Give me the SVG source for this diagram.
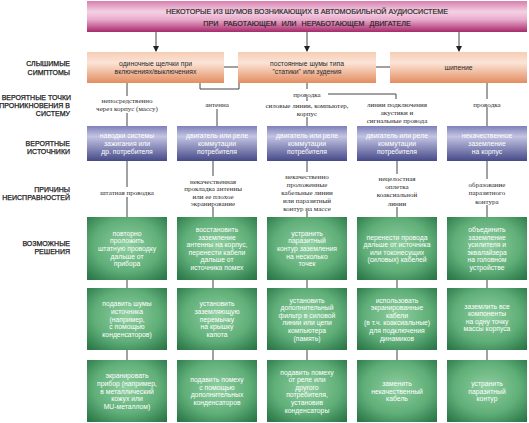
<svg xmlns="http://www.w3.org/2000/svg" width="529" height="423" viewBox="0 0 529 423">
<defs>
<linearGradient id="gTitle" x1="0" y1="0" x2="0" y2="1">
<stop offset="0" stop-color="#d77fae"/><stop offset="0.35" stop-color="#f4d2e4"/><stop offset="0.6" stop-color="#e9abcc"/><stop offset="1" stop-color="#a62a6a"/>
</linearGradient>
<linearGradient id="gSym" x1="0" y1="0" x2="0" y2="1">
<stop offset="0" stop-color="#f6cdb6"/><stop offset="0.35" stop-color="#fbe4d6"/><stop offset="1" stop-color="#e38d60"/>
</linearGradient>
<linearGradient id="gSrc" x1="0" y1="0" x2="0" y2="1">
<stop offset="0" stop-color="#7d80b8"/><stop offset="0.3" stop-color="#c3c4e3"/><stop offset="1" stop-color="#464a88"/>
</linearGradient>
<radialGradient id="gSol" cx="0.5" cy="0.45" r="0.7">
<stop offset="0" stop-color="#8fcf9f"/><stop offset="0.6" stop-color="#5fae78"/><stop offset="1" stop-color="#2c7849"/>
</radialGradient>
<marker id="arr" markerWidth="6" markerHeight="6" refX="5" refY="3" orient="auto" markerUnits="userSpaceOnUse">
<path d="M0,0 L6,3 L0,6 Z" fill="#222"/>
</marker>
<style>
.title{font-family:"Liberation Sans",Arial,sans-serif;font-size:7.2px;fill:#222;text-anchor:middle;stroke:#222;stroke-width:0.15}
.lbl{font-family:"Liberation Sans",Arial,sans-serif;font-size:7px;fill:#1a1a1a;text-anchor:end;stroke:#1a1a1a;stroke-width:0.25}
.bt{font-family:"Liberation Sans",Arial,sans-serif;font-size:6.8px;text-anchor:middle}
.dark{fill:#2a2a2a}
.wt{fill:#ffffff}
.sf{font-family:"Liberation Serif","Times New Roman",serif;font-size:7px;fill:#2a2a2a;text-anchor:middle}
.ln{stroke:#444;stroke-width:1;fill:none}
.sym{fill:url(#gSym)}
.src{fill:url(#gSrc)}
.sol{fill:url(#gSol)}
</style>
</defs>

<g id="row-labels">
<text class="lbl" x="70" y="65.5">СЛЫШИМЫЕ</text>
<text class="lbl" x="70" y="74.5">СИМПТОМЫ</text>
<text class="lbl" x="71" y="99.5">ВЕРОЯТНЫЕ ТОЧКИ</text>
<text class="lbl" x="70" y="107.5">ПРОНИКНОВЕНИЯ В</text>
<text class="lbl" x="70" y="115.5">СИСТЕМУ</text>
<text class="lbl" x="70" y="145.5">ВЕРОЯТНЫЕ</text>
<text class="lbl" x="70" y="153.5">ИСТОЧНИКИ</text>
<text class="lbl" x="70" y="191.5">ПРИЧИНЫ</text>
<text class="lbl" x="70" y="199.5">НЕИСПРАВНОСТЕЙ</text>
<text class="lbl" x="70" y="245.5">ВОЗМОЖНЫЕ</text>
<text class="lbl" x="70" y="253.5">РЕШЕНИЯ</text>
</g>

<g id="connectors">
<line class="ln" x1="156" y1="32" x2="156" y2="51" marker-end="url(#arr)"/>
<line class="ln" x1="307" y1="32" x2="307" y2="51" marker-end="url(#arr)"/>
<line class="ln" x1="459" y1="32" x2="459" y2="51" marker-end="url(#arr)"/>
<line class="ln" x1="224" y1="67" x2="238" y2="67"/>
<line class="ln" x1="376" y1="67" x2="390" y2="67"/>
<line class="ln" x1="127" y1="83" x2="127" y2="96"/>
<polyline class="ln" points="200,83 200,89 239,89 239,83"/>
<line class="ln" x1="307" y1="83" x2="307" y2="89"/>
<polyline class="ln" points="328,94 396,94 396,99"/>
<line class="ln" x1="307" y1="97" x2="307" y2="101"/>
<line class="ln" x1="487" y1="83" x2="487" y2="99"/>
<line class="ln" x1="127" y1="113" x2="127" y2="126"/>
<line class="ln" x1="217" y1="109" x2="217" y2="126"/>
<line class="ln" x1="307" y1="117" x2="307" y2="126"/>
<line class="ln" x1="487" y1="107" x2="487" y2="126"/>
<line class="ln" x1="127" y1="161" x2="127" y2="187"/>
<line class="ln" x1="127" y1="197" x2="127" y2="217"/>
<line class="ln" x1="213" y1="161" x2="213" y2="176"/>
<line class="ln" x1="213" y1="207" x2="213" y2="217"/>
<line class="ln" x1="307" y1="161" x2="307" y2="172"/>
<line class="ln" x1="307" y1="211" x2="307" y2="217"/>
<line class="ln" x1="397" y1="161" x2="397" y2="174"/>
<line class="ln" x1="397" y1="207" x2="397" y2="217"/>
<line class="ln" x1="487" y1="161" x2="487" y2="179"/>
<line class="ln" x1="487" y1="205" x2="487" y2="217"/>
<line class="ln" x1="127" y1="280" x2="127" y2="288"/>
<line class="ln" x1="213" y1="280" x2="213" y2="288"/>
<line class="ln" x1="307" y1="280" x2="307" y2="288"/>
<line class="ln" x1="397" y1="280" x2="397" y2="288"/>
<line class="ln" x1="487" y1="280" x2="487" y2="288"/>
<line class="ln" x1="127" y1="350" x2="127" y2="360"/>
<line class="ln" x1="213" y1="350" x2="213" y2="360"/>
<line class="ln" x1="307" y1="350" x2="307" y2="360"/>
<line class="ln" x1="397" y1="350" x2="397" y2="360"/>
<line class="ln" x1="487" y1="350" x2="487" y2="360"/>
</g>

<g id="title">
<rect x="87" y="1" width="440" height="31" fill="url(#gTitle)"/>
<text class="title" x="307" y="13.5">НЕКОТОРЫЕ ИЗ ШУМОВ  ВОЗНИКАЮЩИХ В АВТОМОБИЛЬНОЙ АУДИОСИСТЕМЕ</text>
<text class="title" x="307" y="25.5" word-spacing="3">ПРИ РАБОТАЮЩЕМ ИЛИ НЕРАБОТАЮЩЕМ ДВИГАТЕЛЕ</text>
</g>

<g id="sym1"><rect class="sym" x="87" y="52" width="137" height="31"/>
<text class="bt dark" x="155.5" y="66"><tspan x="155.5">одиночные щелчки при</tspan><tspan x="155.5" dy="8">включениях/выключениях</tspan></text></g>
<g id="sym2"><rect class="sym" x="238" y="52" width="138" height="31"/>
<text class="bt dark" x="307" y="66"><tspan x="307">постоянные шумы типа</tspan><tspan x="307" dy="8">"статики" или зудения</tspan></text></g>
<g id="sym3"><rect class="sym" x="390" y="52" width="137" height="31"/>
<text class="bt dark" x="458.5" y="70">шипение</text></g>

<g id="entry1"><text class="sf" x="127" y="102.5"><tspan x="127">непосредственно</tspan><tspan x="127" dy="8.5">через корпус (массу)</tspan></text></g>
<g id="entry2"><text class="sf" x="217" y="106.5">антенна</text></g>
<g id="entry3a"><text class="sf" x="307" y="96.5">проводка</text></g>
<g id="entry3b"><text class="sf" x="307" y="107.5"><tspan x="307">силовые линии, компьютер,</tspan><tspan x="307" dy="8">корпус</tspan></text></g>
<g id="entry4"><text class="sf" x="397" y="106.5"><tspan x="397">линии подключения</tspan><tspan x="397" dy="8">акустики и</tspan><tspan x="397" dy="8">сигнальные провода</tspan></text></g>
<g id="entry5"><text class="sf" x="487" y="106.5">проводка</text></g>

<g id="src1"><rect class="src" x="87" y="126" width="80" height="35"/>
<text class="bt wt" y="138.4"><tspan x="127">наводки системы</tspan><tspan x="127" dy="7.6">зажигания или</tspan><tspan x="127" dy="7.6">др. потребителя</tspan></text></g>
<g id="src2"><rect class="src" x="177" y="126" width="80" height="35"/>
<text class="bt wt" y="138.4"><tspan x="217">двигатель или реле</tspan><tspan x="217" dy="7.6">коммутации</tspan><tspan x="217" dy="7.6">потребителя</tspan></text></g>
<g id="src3"><rect class="src" x="267" y="126" width="80" height="35"/>
<text class="bt wt" y="138.4"><tspan x="307">двигатель или реле</tspan><tspan x="307" dy="7.6">коммутации</tspan><tspan x="307" dy="7.6">потребителя</tspan></text></g>
<g id="src4"><rect class="src" x="357" y="126" width="80" height="35"/>
<text class="bt wt" y="138.4"><tspan x="397">двигатель или реле</tspan><tspan x="397" dy="7.6">коммутации</tspan><tspan x="397" dy="7.6">потребителя</tspan></text></g>
<g id="src5"><rect class="src" x="447" y="126" width="80" height="35"/>
<text class="bt wt" y="138.4"><tspan x="487">некачественное</tspan><tspan x="487" dy="7.6">заземление</tspan><tspan x="487" dy="7.6">на корпус</tspan></text></g>

<g id="cause1"><text class="sf" x="127" y="194.5">штатная проводка</text></g>
<g id="cause2"><text class="sf" y="183.5"><tspan x="213">некачественная</tspan><tspan x="213" dy="7.6">прокладка антенны</tspan><tspan x="213" dy="7.6">или ее плохое</tspan><tspan x="213" dy="7.6">экранирование</tspan></text></g>
<g id="cause3"><text class="sf" y="178.5"><tspan x="307">некачественно</tspan><tspan x="307" dy="8">проложенные</tspan><tspan x="307" dy="8">кабельные линии</tspan><tspan x="307" dy="8">или паразитный</tspan><tspan x="307" dy="8">контур на массе</tspan></text></g>
<g id="cause4"><text class="sf" y="181"><tspan x="397">нецелостная</tspan><tspan x="397" dy="8.2">оплетка</tspan><tspan x="397" dy="8.2">коаксиальной</tspan><tspan x="397" dy="8.2">линии</tspan></text></g>
<g id="cause5"><text class="sf" y="186.5"><tspan x="487">образование</tspan><tspan x="487" dy="8.5">паразитного</tspan><tspan x="487" dy="8.5">контура</tspan></text></g>

<g id="sol1a"><rect class="sol" x="87" y="217" width="80" height="63"/>
<text class="bt wt" y="235.8"><tspan x="127">повторно</tspan><tspan x="127" dy="7.6">проложить</tspan><tspan x="127" dy="7.6">штатную проводку</tspan><tspan x="127" dy="7.6">дальше от</tspan><tspan x="127" dy="7.6">прибора</tspan></text></g>
<g id="sol2a"><rect class="sol" x="177" y="217" width="80" height="63"/>
<text class="bt wt" y="232"><tspan x="217">восстановить</tspan><tspan x="217" dy="7.6">заземление</tspan><tspan x="217" dy="7.6">антенны на корпус,</tspan><tspan x="217" dy="7.6">перенести кабели</tspan><tspan x="217" dy="7.6">дальше от</tspan><tspan x="217" dy="7.6">источника помех</tspan></text></g>
<g id="sol3a"><rect class="sol" x="267" y="217" width="80" height="63"/>
<text class="bt wt" y="235.8"><tspan x="307">устранить</tspan><tspan x="307" dy="7.6">паразитный</tspan><tspan x="307" dy="7.6">контур заземления</tspan><tspan x="307" dy="7.6">на несколько</tspan><tspan x="307" dy="7.6">точек</tspan></text></g>
<g id="sol4a"><rect class="sol" x="357" y="217" width="80" height="63"/>
<text class="bt wt" y="239.6"><tspan x="397">перенести провода</tspan><tspan x="397" dy="7.6">дальше от источника</tspan><tspan x="397" dy="7.6">или токонесущих</tspan><tspan x="397" dy="7.6">(силовых) кабелей</tspan></text></g>
<g id="sol5a"><rect class="sol" x="447" y="217" width="80" height="63"/>
<text class="bt wt" y="232"><tspan x="487">объединить</tspan><tspan x="487" dy="7.6">заземление</tspan><tspan x="487" dy="7.6">усилителя и</tspan><tspan x="487" dy="7.6">эквалайзера</tspan><tspan x="487" dy="7.6">на головном</tspan><tspan x="487" dy="7.6">устройстве</tspan></text></g>

<g id="sol1b"><rect class="sol" x="87" y="288" width="80" height="62"/>
<text class="bt wt" y="306.3"><tspan x="127">подавить шумы</tspan><tspan x="127" dy="7.6">источника</tspan><tspan x="127" dy="7.6">(например,</tspan><tspan x="127" dy="7.6">с помощью</tspan><tspan x="127" dy="7.6">конденсаторов)</tspan></text></g>
<g id="sol2b"><rect class="sol" x="177" y="288" width="80" height="62"/>
<text class="bt wt" y="306.3"><tspan x="217">установить</tspan><tspan x="217" dy="7.6">заземляющую</tspan><tspan x="217" dy="7.6">перемычку</tspan><tspan x="217" dy="7.6">на крышку</tspan><tspan x="217" dy="7.6">капота</tspan></text></g>
<g id="sol3b"><rect class="sol" x="267" y="288" width="80" height="62"/>
<text class="bt wt" y="302.5"><tspan x="307">установить</tspan><tspan x="307" dy="7.6">дополнительный</tspan><tspan x="307" dy="7.6">фильтр в силовой</tspan><tspan x="307" dy="7.6">линии или цепи</tspan><tspan x="307" dy="7.6">компьютера</tspan><tspan x="307" dy="7.6">(память)</tspan></text></g>
<g id="sol4b"><rect class="sol" x="357" y="288" width="80" height="62"/>
<text class="bt wt" y="302.5"><tspan x="397">использовать</tspan><tspan x="397" dy="7.6">экранированные</tspan><tspan x="397" dy="7.6">кабели</tspan><tspan x="397" dy="7.6">(в т.ч. коаксиальные)</tspan><tspan x="397" dy="7.6">для подключения</tspan><tspan x="397" dy="7.6">динамиков</tspan></text></g>
<g id="sol5b"><rect class="sol" x="447" y="288" width="80" height="62"/>
<text class="bt wt" y="308.5"><tspan x="487">заземлить все</tspan><tspan x="487" dy="7.6">компоненты</tspan><tspan x="487" dy="7.6">на одну точку</tspan><tspan x="487" dy="7.6">массы корпуса</tspan></text></g>

<g id="sol1c"><rect class="sol" x="87" y="360" width="80" height="62"/>
<text class="bt wt" y="378.3"><tspan x="127">экранировать</tspan><tspan x="127" dy="7.6">прибор (например,</tspan><tspan x="127" dy="7.6">в металлический</tspan><tspan x="127" dy="7.6">кожух или</tspan><tspan x="127" dy="7.6">MU-металлом)</tspan></text></g>
<g id="sol2c"><rect class="sol" x="177" y="360" width="80" height="62"/>
<text class="bt wt" y="382.1"><tspan x="217">подавить помеху</tspan><tspan x="217" dy="7.6">с помощью</tspan><tspan x="217" dy="7.6">дополнительных</tspan><tspan x="217" dy="7.6">конденсаторов</tspan></text></g>
<g id="sol3c"><rect class="sol" x="267" y="360" width="80" height="62"/>
<text class="bt wt" y="374.5"><tspan x="307">подавить помеху</tspan><tspan x="307" dy="7.6">от реле или</tspan><tspan x="307" dy="7.6">другого</tspan><tspan x="307" dy="7.6">потребителя,</tspan><tspan x="307" dy="7.6">установив</tspan><tspan x="307" dy="7.6">конденсаторы</tspan></text></g>
<g id="sol4c"><rect class="sol" x="357" y="360" width="80" height="62"/>
<text class="bt wt" y="385.9"><tspan x="397">заменить</tspan><tspan x="397" dy="7.6">некачественный</tspan><tspan x="397" dy="7.6">кабель</tspan></text></g>
<g id="sol5c"><rect class="sol" x="447" y="360" width="80" height="62"/>
<text class="bt wt" y="385.9"><tspan x="487">устранить</tspan><tspan x="487" dy="7.6">паразитный</tspan><tspan x="487" dy="7.6">контур</tspan></text></g>
</svg>
